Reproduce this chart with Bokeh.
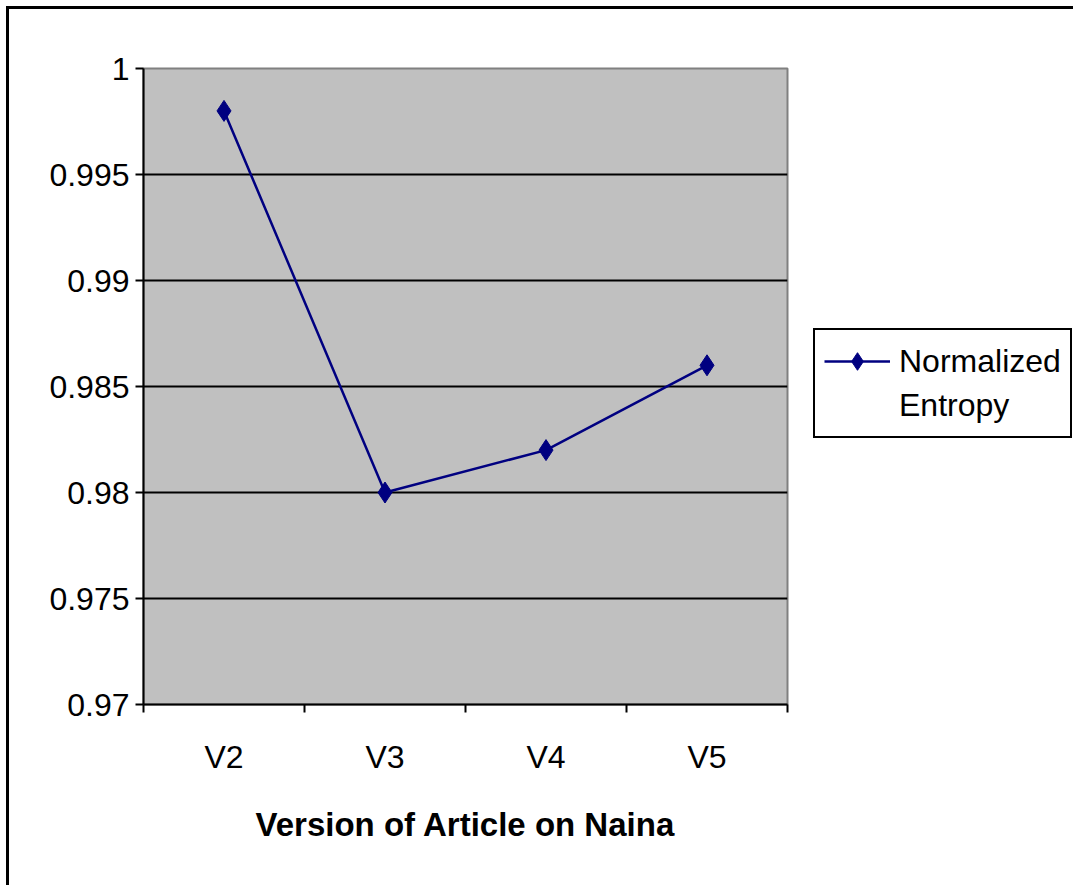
from bokeh.plotting import figure
from bokeh.models import Range1d, FixedTicker, Legend, LegendItem
from bokeh.embed import file_html
from bokeh.resources import INLINE

# ---- data ----
versions = ["V2", "V3", "V4", "V5"]
entropy = [0.998, 0.980, 0.982, 0.986]
y_ticks = [0.97, 0.975, 0.98, 0.985, 0.99, 0.995, 1.0]
y_tick_labels = ["0.97", "0.975", "0.98", "0.985", "0.99", "0.995", "1"]
grid_ticks = [0.975, 0.98, 0.985, 0.99, 0.995]
series_name = "Normalized\nEntropy"
x_title = "Version of Article on Naina"

x_pos = [i + 0.5 for i in range(len(versions))]
boundaries = list(range(len(versions) + 1))

FONT = "Liberation Sans"

p = figure(width=1064, height=876, output_backend="svg", toolbar_location=None,
           x_range=Range1d(0, len(versions)), y_range=Range1d(0.97, 1.0),
           min_border_left=134, min_border_right=286, min_border_top=59, min_border_bottom=181,
           frame_width=644, frame_height=636)
p.styles = {"margin": "6px 0px 0px 6px",
            "border-left": "3px solid black", "border-top": "3px solid black"}

p.background_fill_color = "#C0C0C0"
p.border_fill_color = "white"
p.outline_line_color = "#808080"
p.outline_line_width = 2

# y axis
p.yaxis.ticker = FixedTicker(ticks=y_ticks)
p.yaxis.major_label_overrides = {t: l for t, l in zip(y_ticks, y_tick_labels)}
p.yaxis.major_label_text_font = FONT
p.yaxis.major_label_text_font_size = "32px"
p.yaxis.major_label_text_color = "black"
p.yaxis.major_tick_out = 8
p.yaxis.major_tick_in = 0
p.yaxis.major_tick_line_width = 2
p.yaxis.minor_tick_line_color = None
p.yaxis.axis_line_width = 2
p.yaxis.axis_line_color = "black"
p.yaxis.major_label_standoff = 6

# x axis
p.xaxis.ticker = FixedTicker(ticks=x_pos, minor_ticks=boundaries)
p.xaxis.major_label_overrides = {x: v for x, v in zip(x_pos, versions)}
p.xaxis.major_label_text_font = FONT
p.xaxis.major_label_text_font_size = "32px"
p.xaxis.major_label_text_color = "black"
p.xaxis.major_tick_line_color = None
p.xaxis.major_tick_out = 0
p.xaxis.major_tick_in = 0
p.xaxis.minor_tick_out = 8
p.xaxis.minor_tick_in = 0
p.xaxis.minor_tick_line_width = 2
p.xaxis.minor_tick_line_color = "black"
p.xaxis.axis_line_width = 2
p.xaxis.axis_line_color = "black"
p.xaxis.major_label_standoff = 26
p.xaxis.axis_label = x_title
p.xaxis.axis_label_text_font = FONT
p.xaxis.axis_label_text_font_style = "bold"
p.xaxis.axis_label_text_font_size = "33px"
p.xaxis.axis_label_text_color = "black"
p.xaxis.axis_label_standoff = 28

# grid
p.xgrid.grid_line_color = None
p.ygrid.ticker = FixedTicker(ticks=grid_ticks)
p.ygrid.grid_line_color = "black"
p.ygrid.grid_line_width = 2

# series
ln = p.line(x_pos, entropy, line_color="#000080", line_width=2.5)
mk = p.scatter(x_pos, entropy, marker="diamond", size=21,
               fill_color="#000080", line_color="#000080")

name_lines = series_name.split("\n")
items = [LegendItem(label=name_lines[0], renderers=[ln, mk])]
items += [LegendItem(label=t, renderers=[]) for t in name_lines[1:]]

legend = Legend(items=items, location=(26, 266), orientation="vertical")
legend.border_line_color = "black"
legend.border_line_width = 2
legend.border_line_alpha = 1
legend.background_fill_color = "white"
legend.background_fill_alpha = 1
legend.label_text_font = FONT
legend.label_text_font_size = "32px"
legend.label_text_color = "black"
legend.glyph_width = 66
legend.glyph_height = 44
legend.label_standoff = 9
legend.label_height = 44
legend.padding = 9
legend.margin = 0
legend.spacing = 0
p.add_layout(legend, "right")

open("out.html", "w").write(file_html(p, INLINE))
